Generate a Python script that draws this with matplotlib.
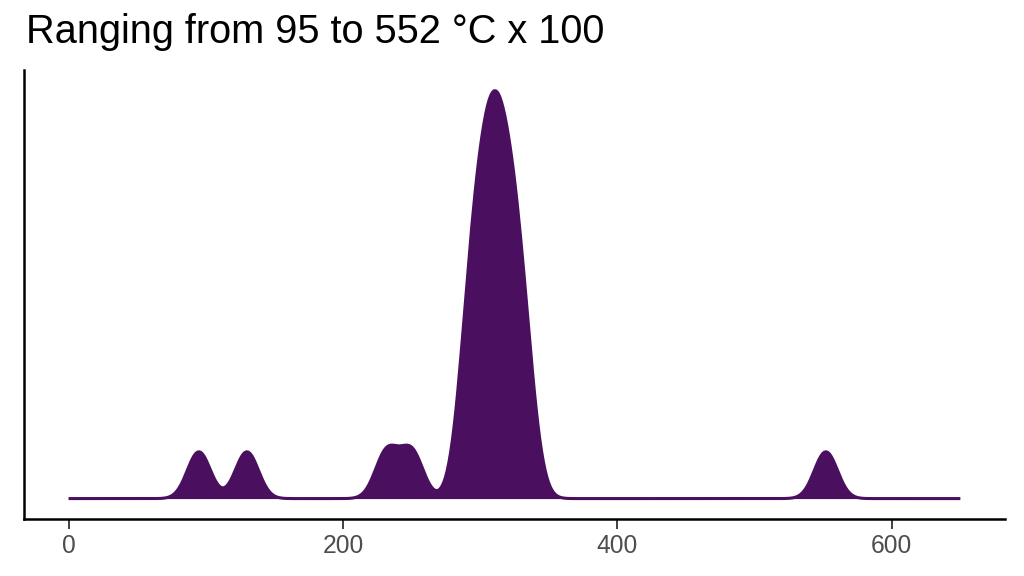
import numpy as np
import matplotlib.pyplot as plt

# measured temperatures (°C x 100)
temps = [95, 130, 232, 250,
         289, 292, 295, 298, 301, 304, 306, 308, 310, 312,
         315, 317, 319, 322, 325, 328, 331, 335,
         552]
bandwidth = 8.4
x_range = [0, 650]
title = "Ranging from 95 to 552 °C x 100"
xticks = [0, 200, 400, 600]

plt.rcParams['font.family'] = ['Liberation Sans', 'DejaVu Sans']

# gaussian kernel density over the whole range
grid = np.linspace(x_range[0], x_range[1], 512)
pts = np.asarray(temps, dtype=float)
dens = np.exp(-0.5 * ((grid[:, None] - pts[None, :]) / bandwidth) ** 2).sum(axis=1)
dens /= len(pts) * bandwidth * np.sqrt(2 * np.pi)

fig = plt.figure(figsize=(10.24, 5.76), dpi=100)
ax = fig.add_axes([0.0234, 0.099, 0.958, 0.779])

col = '#4a0f5f'
ax.fill_between(grid, 0, dens, color=col, linewidth=0)
ax.plot(grid, dens, color=col, linewidth=2.2, solid_capstyle='butt')

span = x_range[1] - x_range[0]
ax.set_xlim(x_range[0] - 0.05 * span, x_range[1] + 0.05 * span)
ax.set_ylim(-0.05 * dens.max(), 1.05 * dens.max())

ax.set_xticks(xticks)
ax.set_yticks([])
ax.tick_params(axis='x', length=7, width=1.3, color='#333333',
               labelsize=17.7, labelcolor='#4d4d4d', pad=4)
for s in ['top', 'right']:
    ax.spines[s].set_visible(False)
for s in ['left', 'bottom']:
    ax.spines[s].set_linewidth(1.8)
    ax.spines[s].set_color('black')

fig.text(0.025, 0.925, title, fontsize=28.6, ha='left', va='baseline')

fig.savefig('out.png', dpi=100)
